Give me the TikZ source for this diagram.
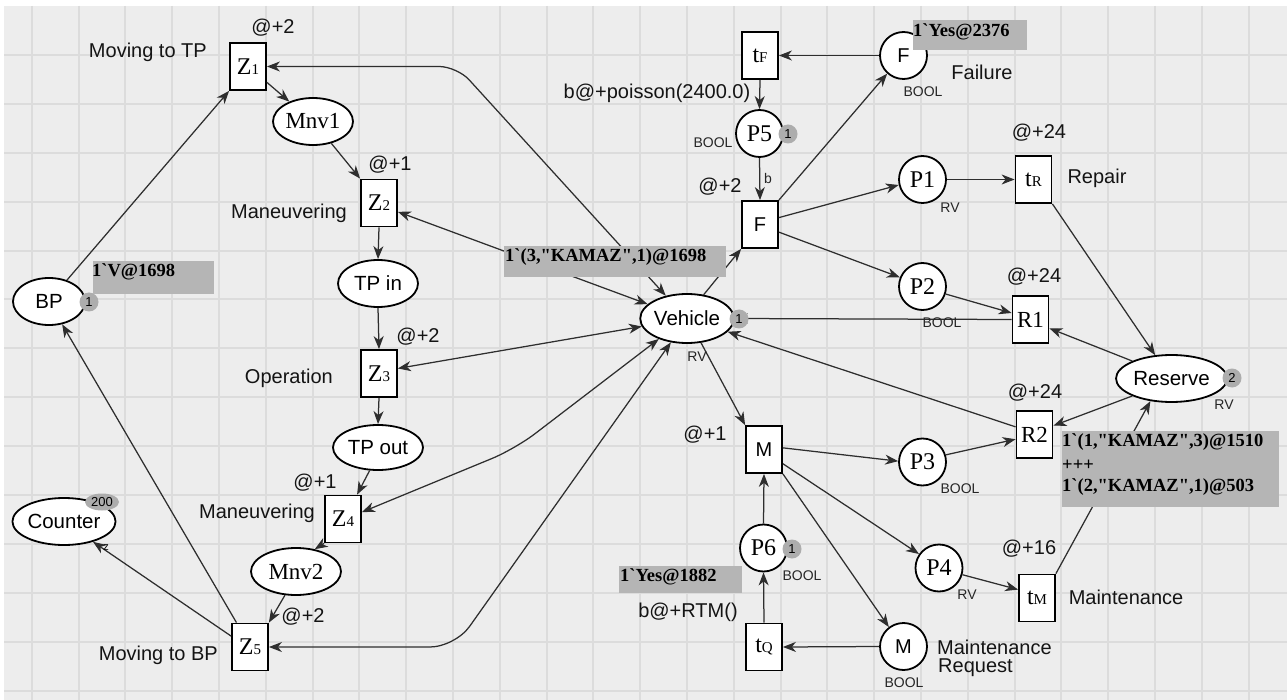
\documentclass[tikz,border=0pt]{standalone}
\usepackage{fontspec}
\setmainfont{Liberation Serif}
\setsansfont{Liberation Sans}
\newfontfamily\boxfont{Liberation Serif}[Ligatures=TeXOff]
\usetikzlibrary{arrows.meta,shapes.geometric}
\definecolor{bg}{HTML}{EDEDED}
\definecolor{gridc}{HTML}{DCDCDC}
\definecolor{inscr}{HTML}{B5B5B5}
\definecolor{tokc}{HTML}{ADADAD}
\definecolor{arcc}{HTML}{2E2E2E}
\newcommand\tn[2]{{\fontsize{24}{24}\selectfont #1}{\fontsize{15}{15}\selectfont #2}}
\begin{document}
\begin{tikzpicture}[x=1pt,y=-1pt,
  trans/.style={draw=black,fill=white,line width=1.8pt,minimum width=36pt,minimum height=47pt,inner sep=0pt,font=\rmfamily},
  transsf/.style={trans,font=\sffamily\fontsize{20}{22}\selectfont},
  transrm/.style={trans,font=\rmfamily\fontsize{23}{23}\selectfont},
  plc/.style={ellipse,draw=black,fill=white,line width=1.8pt,minimum height=47pt,inner sep=0pt},
  plcsf/.style={plc,font=\sffamily\fontsize{20.5}{22}\selectfont},
  plcrm/.style={plc,font=\rmfamily\fontsize{23}{23}\selectfont},
  circrm/.style={circle,draw=black,fill=white,line width=1.8pt,minimum size=47pt,inner sep=0pt,font=\rmfamily\fontsize{24}{24}\selectfont},
  circsf/.style={circrm,font=\sffamily\fontsize{20}{22}\selectfont},
  tok/.style={circle,fill=tokc,minimum size=19pt,inner sep=0pt,font=\sffamily\fontsize{13}{13}\selectfont},
  lbl/.style={inner sep=0pt,font=\sffamily\fontsize{20}{22}\selectfont,text=black!92},
  smalllbl/.style={inner sep=0pt,font=\sffamily\fontsize{14}{14}\selectfont,text=black!85},
  boxtxt/.style={inner sep=0pt,anchor=west,font=\boxfont\bfseries\fontsize{18.5}{18.5}\selectfont},
  ca/.style={draw=arcc,line width=1.25pt,-{Stealth[length=13pt,width=10pt,inset=4pt]}},
  cab/.style={draw=arcc,line width=1.25pt,{Stealth[length=13pt,width=10pt,inset=4pt]}-{Stealth[length=13pt,width=10pt,inset=4pt]}}
]
\useasboundingbox (0,0) rectangle (1287,700);
\fill[white] (0,0) rectangle (1287,700);
\fill[bg] (4,6) rectangle (1287,700);
\foreach \i in {0,...,26} \draw[gridc,line width=2pt] ({31.7+46.8*\i},6) -- ({31.7+46.8*\i},700);
\foreach \j in {0,...,13} \draw[gridc,line width=2pt] (4,{55+48.9*\j}) -- (1287,{55+48.9*\j});

% ---- nodes (left part)
\node[trans] (Z1) at (248,66.5) {\tn{Z}{1}};
\node[plcrm,minimum width=80pt] (Mnv1) at (313,121.5) {Mnv1};
\node[trans] (Z2) at (379,203) {\tn{Z}{2}};
\node[plcsf,minimum width=80pt] (TPin) at (378,283.5) {TP in};
\node[trans] (Z3) at (379,373.5) {\tn{Z}{3}};
\node[plcsf,minimum width=90pt,minimum height=45pt] (TPout) at (378,447.5) {TP out};
\node[trans] (Z4) at (343,519) {\tn{Z}{4}};
\node[plcrm,minimum width=90pt] (Mnv2) at (296,571.5) {Mnv2};
\node[trans] (Z5) at (250,647) {\tn{Z}{5}};
\node[plcsf,minimum width=72pt] (BP) at (49,301.5) {BP};
\node[plcsf,minimum width=96pt] (Counter) at (64,521.5) {Counter};
\node[plcsf,minimum width=92pt,minimum height=49pt] (Vehicle) at (687,318.5) {Vehicle};
% ---- nodes (right part)
\node[trans] (tF) at (760,55.5) {\tn{t}{F}};
\node[circrm] (P5) at (759.5,133.5) {P5};
\node[transsf] (F) at (760,224.5) {F};
\node[circsf] (Fp) at (903.5,55.5) {F};
\node[circrm] (P1) at (922.5,179.5) {P1};
\node[trans] (tR) at (1033.5,179.5) {\tn{t}{R}};
\node[circrm] (P2) at (922.5,286.5) {P2};
\node[transrm] (R1) at (1030.5,319.5) {R1};
\node[plcsf,minimum width=111pt] (Reserve) at (1171.5,378.5) {Reserve};
\node[transrm] (R2) at (1034.5,434.5) {R2};
\node[circrm] (P3) at (922.5,462) {P3};
\node[circrm] (P4) at (939,568) {P4};
\node[trans] (tM) at (1037,598) {\tn{t}{M}};
\node[circsf] (Mp) at (903.5,646.5) {M};
\node[transsf] (M) at (764,449.5) {M};
\node[circrm] (P6) at (763.5,548) {P6};
\node[trans] (tQ) at (764,647) {\tn{t}{Q}};

% ---- arcs
\draw[ca] (BP.50) -- (Z1.south west);
\draw[ca] (Z5.119) -- (BP.-60);
\draw[ca] (Z5.150) -- (Counter.-35);
\draw[ca] (Z1.-40) -- (Mnv1.140);
\draw[ca] (Mnv1.-50) -- (Z2.north west);
\draw[ca] (Z2.south) -- (TPin.north);
\draw[ca] (TPin.south) -- (Z3.north);
\draw[ca] (Z3.south) -- (TPout.north);
\draw[ca] (TPout.-110) -- (Z4.60);
\draw[ca] (Z4.south west) -- (Mnv2.50);
\draw[ca] (Mnv2.-115) -- (Z5.north east);
\draw[cab,rounded corners=18pt] (Z1.east) -- (457,66.5) -- (Vehicle.133);
\draw[cab] (Z2.-25) -- (Vehicle.160);
\draw[cab] (Z3.15) -- (Vehicle.190);
\draw[cab,rounded corners=25pt] (Z4.20) -- (515,449) -- (Vehicle.216);
\draw[cab,rounded corners=25pt] (Z5.east) -- (455,647) -- (Vehicle.236);
\draw[ca] (Vehicle.55) -- (F.south west);
\draw[ca] (Vehicle.-60) -- (M.north west);
\draw[ca] (R2.158) -- (Vehicle.-18);
\draw[ca] (R1.west) -- (Vehicle.east);
\draw[ca] (Reserve.156) -- (R1.-25);
\draw[ca] (Reserve.204) -- (R2.25);
\draw[ca] (tR.south east) -- (Reserve.125);
\draw[ca] (tM.north east) -- (Reserve.-133);
\draw[ca] (F.north east) -- (Fp.-132);
\draw[ca] (Fp.west) -- (tF.east);
\draw[ca] (tF.south) -- (P5.north);
\draw[ca] (P5.south) -- (F.north);
\draw[ca] (F.20) -- (P1.193);
\draw[ca] (F.-22) -- (P2.158);
\draw[ca] (P1.east) -- (tR.west);
\draw[ca] (P2.-18) -- (R1.161);
\draw[ca] (M.5) -- (P3.178);
\draw[ca] (M.-37) -- (P4.145);
\draw[ca] (M.south east) -- (Mp.127);
\draw[ca] (P3.17) -- (R2.194);
\draw[ca] (P4.-16) -- (tM.156);
\draw[ca] (Mp.west) -- (tQ.east);
\draw[ca] (tQ.north) -- (P6.south);
\draw[ca] (P6.north) -- (M.south);

% ---- tokens
\node[tok] (tokBP) at (89,302) {1};
\node[tok] (tokP5) at (788,134) {1};
\node[tok] (tokV) at (739,319) {1};
\node[tok] (tokP6) at (792,549) {1};
\node[tok] (tokR) at (1232,378) {2};
\node[ellipse,fill=tokc,minimum width=34pt,minimum height=17pt,inner sep=0pt,font=\sffamily\fontsize{13}{13}\selectfont] (tokC) at (102,502) {200};

% ---- marking boxes
\fill[inscr] (93,261) rectangle (214,294);
\node[boxtxt] (mBP) at (92,272) {1`V@1698};
\fill[inscr] (504,246) rectangle (726,277);
\node[boxtxt] (mV) at (505,257) {1`(3,"KAMAZ",1)@1698};
\fill[inscr] (913,20) rectangle (1027,50);
\node[boxtxt] (mF) at (913,32) {1`Yes@2376};
\fill[inscr] (619,566) rectangle (742,593);
\node[boxtxt] (mP6) at (620,577) {1`Yes@1882};
\fill[inscr] (1062,431) rectangle (1279,507);
\node[boxtxt] (mR1) at (1062,442) {1`(1,"KAMAZ",3)@1510};
\node[boxtxt] (mR2) at (1062,465) {+++};
\node[boxtxt] (mR3) at (1062,487) {1`(2,"KAMAZ",1)@503};

% ---- labels
\node[lbl] (d1) at (273,28) {@+2};
\node[lbl,anchor=east] (n1) at (207,52) {Moving to TP};
\node[lbl] (d2) at (390,165) {@+1};
\node[lbl,anchor=east] (n2) at (347,213) {Maneuvering};
\node[lbl] (d3) at (418,337) {@+2};
\node[lbl,anchor=east] (n3) at (333,378) {Operation};
\node[lbl] (d4) at (315,483) {@+1};
\node[lbl,anchor=east] (n4) at (315,513) {Maneuvering};
\node[lbl] (d5) at (303,617) {@+2};
\node[lbl,anchor=east] (n5) at (218,655) {Moving to BP};
\node[inner sep=0pt,font=\sffamily\fontsize{11}{11}\selectfont] (zl) at (106,548) {z};
\node[lbl] (tfexp) at (657,93) {b@+poisson(2400.0)};
\node[smalllbl] (bP5) at (713,143) {BOOL};
\node[lbl] (dF) at (720,187) {@+2};
\node[smalllbl] (bl) at (768,178) {b};
\node[lbl] (fail) at (982,72) {Failure};
\node[smalllbl] (bFp) at (923,92) {BOOL};
\node[lbl] (dR) at (1039,133) {@+24};
\node[smalllbl] (rP1) at (950,208) {RV};
\node[lbl] (rep) at (1097,178) {Repair};
\node[lbl] (dR1) at (1034,277) {@+24};
\node[smalllbl] (bP2) at (942,323) {BOOL};
\node[smalllbl] (rV) at (697,357) {RV};
\node[lbl] (dR2) at (1035,393) {@+24};
\node[smalllbl] (rRes) at (1224,405) {RV};
\node[smalllbl] (bP3) at (960,489) {BOOL};
\node[lbl] (dM) at (705,435) {@+1};
\node[smalllbl] (bP6) at (802,576) {BOOL};
\node[lbl] (rtm) at (688,612) {b@+RTM()};
\node[lbl] (dtM) at (1029,549) {@+16};
\node[smalllbl] (rP4) at (967,595) {RV};
\node[lbl] (mnt) at (1126,597) {Maintenance};
\node[lbl,anchor=west] (mr1) at (937,647) {Maintenance};
\node[lbl,anchor=west] (mr2) at (938,668) {Request};
\node[smalllbl] (bMp) at (904,683) {BOOL};
\end{tikzpicture}
\end{document}
